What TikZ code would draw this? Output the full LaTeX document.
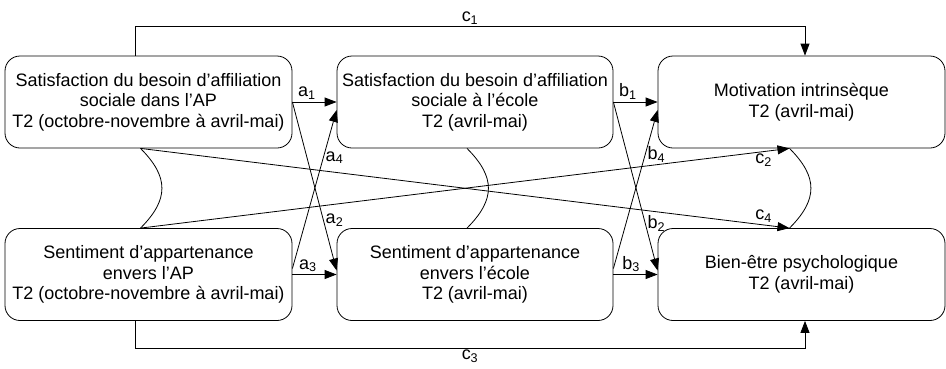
\documentclass[tikz,border=0pt]{standalone}
\usepackage{fontspec}
\setmainfont{Liberation Sans}
\usepackage{tikz}
\usetikzlibrary{arrows.meta}
\tikzstyle{box} = [rectangle, rounded corners=15pt, minimum width=287pt, minimum height=92pt, inner sep=1pt, align=center, draw=black, line width=0.8pt]
\tikzstyle{arrow} = [line width=0.8pt, -{Triangle[length=12pt,width=9pt]}]
\tikzstyle{corr} = [line width=0.8pt]
\tikzstyle{lab} = [inner sep=2pt]

\begin{document}
\begin{tikzpicture}[node distance=326.5pt, font=\fontsize{18}{20.5}\selectfont]
   \useasboundingbox (0,0) rectangle (946pt,-368pt);
   \node (sap) [box] at (148.5pt,-102pt) {Satisfaction du besoin d’affiliation\\sociale dans l’AP\\T2 (octobre-novembre à avril-mai)};
   \node (sec) [box, minimum width=276pt, right of=sap] {Satisfaction du besoin d’affiliation\\sociale à l’école\\T2 (avril-mai)};
   \node (mot) [box, right of=sec] {Motivation intrinsèque\\T2 (avril-mai)};
   \node (aap) [box, below of=sap, node distance=172.5pt] {Sentiment d’appartenance\\envers l’AP\\T2 (octobre-novembre à avril-mai)};
   \node (aec) [box, minimum width=276pt, right of=aap] {Sentiment d’appartenance\\envers l’école\\T2 (avril-mai)};
   \node (bien) [box, right of=aec] {Bien-être psychologique\\T2 (avril-mai)};
   % chemins a
   \draw [arrow] (sap.east) -- node[lab, above, pos=0.33] {a\textsubscript{1}} (sec.west);
   \draw [arrow] (sap.east) -- node[lab, right, pos=0.7] {a\textsubscript{2}} ([yshift=4pt]aec.west);
   \draw [arrow] (aap.east) -- node[lab, above, pos=0.35] {a\textsubscript{3}} (aec.west);
   \draw [arrow] ([yshift=6pt]aap.east) -- node[lab, right, pos=0.7] {a\textsubscript{4}} ([yshift=-8pt]sec.west);
   % chemins b
   \draw [arrow] (sec.east) -- node[lab, above, pos=0.33] {b\textsubscript{1}} (mot.west);
   \draw [arrow] (sec.east) -- node[lab, right, pos=0.72] {b\textsubscript{2}} ([yshift=4pt]bien.west);
   \draw [arrow] (aec.east) -- node[lab, above, pos=0.4] {b\textsubscript{3}} (bien.west);
   \draw [arrow] ([yshift=6pt]aec.east) -- node[lab, right, pos=0.72] {b\textsubscript{4}} ([yshift=-8pt]mot.west);
   % chemins c
   \draw [arrow] ([xshift=-13.5pt]sap.north) -- ++(0,29pt) -| node[lab, above, pos=0.25] {c\textsubscript{1}} ([xshift=3.5pt]mot.north);
   \draw [arrow] ([xshift=-8pt]aap.north) -- node[lab, below, pos=0.96] {c\textsubscript{2}} ([xshift=-12pt]mot.south);
   \draw [arrow] ([xshift=-13.5pt]aap.south) -- ++(0,-27pt) -| node[lab, below, pos=0.25] {c\textsubscript{3}} ([xshift=3.5pt]bien.south);
   \draw [arrow] ([xshift=-8pt]sap.south) -- node[lab, above, pos=0.96] {c\textsubscript{4}} ([xshift=-12pt]bien.north);
   % correlations
   \draw [corr] ([xshift=-8pt]sap.south) to[out=-45, in=45, looseness=1.3] ([xshift=-8pt]aap.north);
   \draw [corr] ([xshift=-8pt]sec.south) to[out=-45, in=45, looseness=1.3] ([xshift=-8pt]aec.north);
   \draw [corr] ([xshift=-12pt]mot.south) to[out=-45, in=45, looseness=1.3] ([xshift=-12pt]bien.north);
\end{tikzpicture}
\end{document}
